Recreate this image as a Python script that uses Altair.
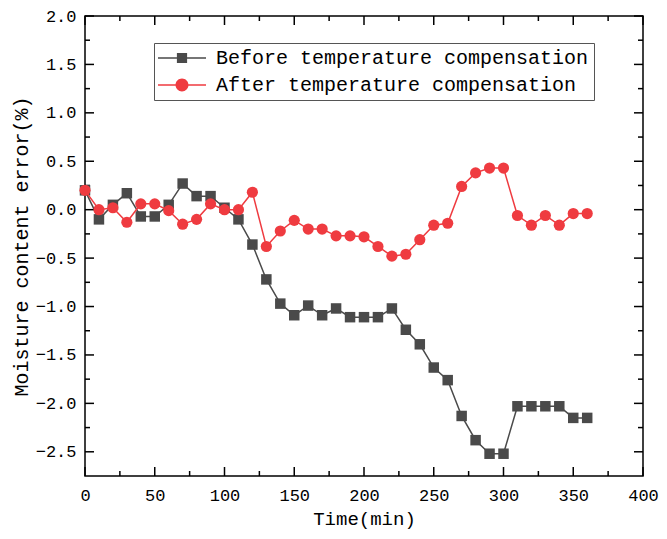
import altair as alt
import pandas as pd

# ---- data ----
time = list(range(0, 361, 10))
before = [0.20, -0.10, 0.05, 0.17, -0.07, -0.07, 0.05, 0.27, 0.14, 0.14, 0.02, -0.10,
          -0.36, -0.72, -0.97, -1.09, -0.99, -1.09, -1.02, -1.11, -1.11, -1.11, -1.02,
          -1.24, -1.39, -1.63, -1.76, -2.13, -2.38, -2.52, -2.52, -2.03, -2.03, -2.03,
          -2.03, -2.15, -2.15]
after = [0.20, 0.00, 0.02, -0.13, 0.06, 0.06, -0.01, -0.15, -0.10, 0.06, 0.00, 0.00,
         0.18, -0.38, -0.22, -0.11, -0.20, -0.20, -0.27, -0.27, -0.28, -0.38, -0.48,
         -0.46, -0.31, -0.16, -0.14, 0.24, 0.38, 0.43, 0.43, -0.06, -0.16, -0.06,
         -0.16, -0.04, -0.04]
names = ["Before temperature compensation", "After temperature compensation"]
x_ticks = list(range(0, 401, 50))
x_minor = list(range(25, 400, 50))
y_ticks = [2.0, 1.5, 1.0, 0.5, 0.0, -0.5, -1.0, -1.5, -2.0, -2.5]
y_minor = [1.75, 1.25, 0.75, 0.25, -0.25, -0.75, -1.25, -1.75, -2.25]

GRAY = "#4a4a4a"
RED = "#ef3b40"
FONT = "Liberation Mono"
W, H = 558, 460
MAJOR, MINOR = 9, 5

df = pd.DataFrame({
    "time": time * 2,
    "value": before + after,
    "series": [names[0]] * len(time) + [names[1]] * len(time),
})

xs = alt.Scale(domain=[0, 400], nice=False, zero=False)
ys = alt.Scale(domain=[-2.75, 2.0], nice=False, zero=False)

x_axis = alt.Axis(values=x_ticks, format="d", ticks=False, domain=False, grid=False,
                  labelFlush=False, labelPadding=11, labelFont=FONT, labelFontSize=17,
                  labelColor="black", title="Time(min)", titleFont=FONT, titleFontSize=19,
                  titleFontWeight="normal", titleColor="black", titlePadding=6)
y_axis = alt.Axis(values=y_ticks, format=".1f", ticks=False, domain=False, grid=False,
                  labelFlush=False, labelPadding=9, labelFont=FONT, labelFontSize=17,
                  labelColor="black", title="Moisture content error(%)", titleFont=FONT,
                  titleFontSize=20, titleFontWeight="normal", titleColor="black",
                  titlePadding=4)


def x_tick_layer(vals, length, top):
    d = pd.DataFrame({"t": vals})
    return alt.Chart(d).mark_rule(color="black", strokeWidth=1.5).encode(
        x=alt.X("t:Q", scale=xs, axis=x_axis, title="Time(min)"),
        y=alt.value(0 if top else H),
        y2=alt.value(length if top else H - length),
    )


def y_tick_layer(vals, length, right):
    d = pd.DataFrame({"t": vals})
    return alt.Chart(d).mark_rule(color="black", strokeWidth=1.5).encode(
        y=alt.Y("t:Q", scale=ys, axis=y_axis, title="Moisture content error(%)"),
        x=alt.value(W if right else 0),
        x2=alt.value(W - length if right else length),
    )


sq = "M-4,-0.12H4V0.12H-4Z M-0.85,-0.85H0.85V0.85H-0.85Z"
ci = "M-4,-0.12H4V0.12H-4Z M-1.08,0A1.08,1.08 0 1,1 1.08,0A1.08,1.08 0 1,1 -1.08,0Z"

leg = alt.Legend(title=None, orient="none", legendX=69, legendY=27, symbolSize=144,
                 symbolOffset=13, labelOffset=24, labelFont=FONT, labelFontSize=20,
                 labelColor="black", labelLimit=600, padding=5, rowPadding=7,
                 strokeColor="#555555", fillColor="white", symbolStrokeWidth=0)

base = alt.Chart(df)
b = base.transform_filter(alt.datum.series == names[0])
a = base.transform_filter(alt.datum.series == names[1])

X0 = alt.X("time:Q", scale=xs, axis=x_axis, title="Time(min)")
Y0 = alt.Y("value:Q", scale=ys, axis=y_axis, title="Moisture content error(%)")

l1 = b.mark_line(color=GRAY, strokeWidth=1.5).encode(x=X0, y=Y0)
l2 = b.mark_square(color=GRAY, size=110, opacity=1).encode(x=X0, y=Y0)
l3 = a.mark_line(color=RED, strokeWidth=1.5).encode(x=X0, y=Y0)
l4 = a.mark_circle(color=RED, size=125, opacity=1).encode(x=X0, y=Y0)
l5 = base.transform_filter("false").mark_point(filled=True, opacity=1).encode(
    x=X0, y=Y0,
    color=alt.Color("series:N", scale=alt.Scale(domain=names, range=[GRAY, RED]), legend=leg),
    shape=alt.Shape("series:N", scale=alt.Scale(domain=names, range=[sq, ci]), legend=leg),
)

ticks = [
    x_tick_layer(x_ticks, MAJOR, False), x_tick_layer(x_minor, MINOR, False),
    x_tick_layer(x_ticks, MAJOR, True), x_tick_layer(x_minor, MINOR, True),
    y_tick_layer(y_ticks, MAJOR, False), y_tick_layer(y_minor, MINOR, False),
    y_tick_layer(y_ticks, MAJOR, True), y_tick_layer(y_minor, MINOR, True),
]

chart = alt.layer(l1, *ticks, l2, l3, l4, l5).properties(
    width=W, height=H,
    autosize=alt.AutoSizeParams(type="none"),
    padding={"left": 77, "top": 8, "right": 16, "bottom": 55},
).configure_view(
    stroke="black", strokeWidth=1.5
).configure_axis(grid=False)

chart.save("out.html", embed_options={"renderer": "svg", "actions": False})
